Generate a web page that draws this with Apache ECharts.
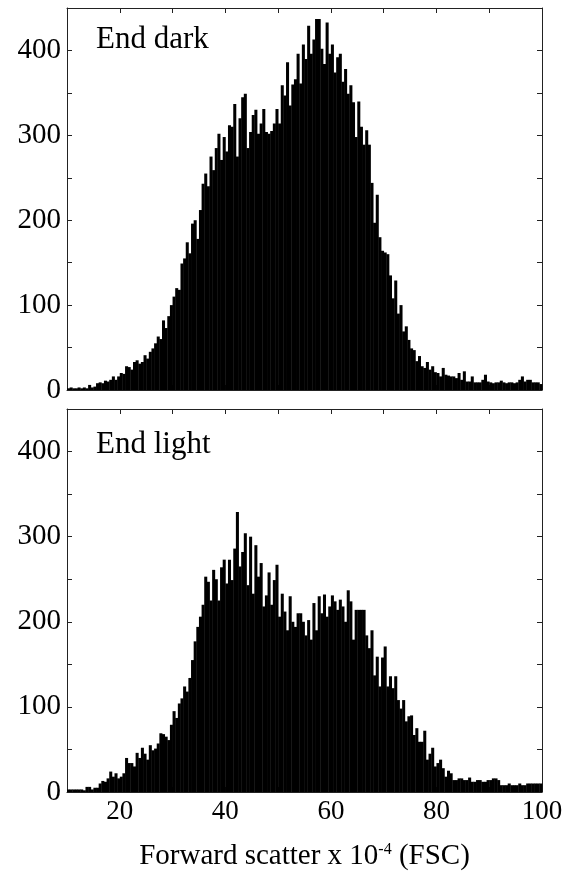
<!DOCTYPE html>
<html>
<head>
<meta charset="utf-8">
<script src="https://cdn.jsdelivr.net/npm/echarts@6/dist/echarts.min.js"></script>
<style>
  html, body { margin: 0; padding: 0; background: #fff; }
  #chart { width: 567px; height: 882px; }
</style>
</head>
<body>
<div id="chart"></div>
<script>
// Histogram bins of forward scatter (x 10^-4), 0.5 units wide, starting at 10
const BIN_START = 10;
const BIN_WIDTH = 0.5;

// Cell counts per bin, end of dark period
const endDark = [
  2, 3, 2, 2, 3, 2, 3, 2, 6, 3,
  4, 8, 9, 8, 11, 10, 12, 16, 12, 16,
  20, 19, 28, 27, 24, 33, 35, 31, 33, 41,
  37, 45, 49, 55, 63, 60, 82, 73, 87, 100,
  110, 120, 118, 149, 155, 174, 161, 196, 200, 178,
  212, 243, 255, 240, 275, 259, 285, 302, 271, 298,
  281, 312, 310, 337, 275, 320, 345, 349, 285, 304,
  324, 330, 302, 314, 331, 304, 302, 305, 314, 331,
  314, 359, 347, 386, 335, 360, 366, 396, 361, 407,
  390, 429, 396, 413, 437, 437, 402, 384, 433, 396,
  407, 374, 392, 396, 363, 378, 349, 359, 339, 298,
  340, 310, 289, 306, 289, 244, 197, 230, 180, 164,
  162, 160, 135, 108, 129, 90, 100, 69, 75, 59,
  49, 47, 34, 40, 28, 26, 33, 24, 28, 21,
  20, 16, 26, 18, 17, 16, 16, 14, 20, 12,
  22, 10, 10, 16, 9, 9, 9, 12, 18, 10,
  9, 8, 9, 9, 11, 9, 8, 9, 9, 8,
  9, 12, 16, 10, 12, 12, 9, 9, 9, 7
];

// Cell counts per bin, end of light period
const endLight = [
  3, 3, 3, 3, 3, 3, 2, 6, 6, 3,
  5, 5, 10, 13, 12, 16, 24, 18, 22, 16,
  18, 22, 40, 34, 34, 30, 46, 40, 52, 45,
  38, 55, 49, 51, 57, 69, 68, 65, 61, 79,
  95, 87, 104, 110, 124, 118, 134, 155, 177, 194,
  206, 220, 253, 247, 225, 261, 250, 225, 264, 273,
  245, 273, 249, 286, 329, 265, 282, 304, 243, 300,
  233, 290, 253, 269, 218, 231, 258, 220, 249, 267,
  206, 233, 212, 190, 230, 200, 194, 210, 210, 200,
  184, 202, 179, 222, 190, 230, 210, 232, 206, 218,
  231, 224, 214, 226, 218, 200, 237, 224, 179, 214,
  214, 214, 214, 184, 169, 190, 137, 159, 124, 158,
  171, 124, 136, 122, 136, 108, 98, 108, 83, 89,
  90, 67, 75, 59, 59, 72, 38, 45, 52, 30,
  34, 38, 28, 18, 25, 22, 14, 14, 16, 16,
  14, 14, 17, 12, 12, 14, 14, 12, 12, 14,
  14, 16, 16, 14, 8, 8, 8, 10, 8, 8,
  8, 10, 8, 8, 10, 10, 10, 10, 10, 10
];

const panelTitles = ['End dark', 'End light'];
const xAxisTitle = ['Forward scatter x 10', '-4', ' (FSC)'];

const X_MIN = 10, X_MAX = 100, X_TICK = 10, X_LABEL_STEP = 20;
const Y_MIN = 0, Y_MAX = 450, Y_TICK = 50, Y_LABEL_STEP = 100;

const FONT = '"Liberation Serif", "Times New Roman", serif';
const FRAME = '#222';

function toBins(counts) {
  return counts.map((c, i) => [BIN_START + i * BIN_WIDTH, c]);
}

// Each bin is a filled rectangle from its left edge to the next edge
function renderBin(params, api) {
  const x0 = api.value(0);
  const y = api.value(1);
  const topLeft = api.coord([x0, y]);
  const bottomRight = api.coord([x0 + BIN_WIDTH, Y_MIN]);
  return {
    type: 'rect',
    shape: {
      x: topLeft[0],
      y: topLeft[1],
      width: bottomRight[0] - topLeft[0] + 0.4,
      height: bottomRight[1] - topLeft[1]
    },
    style: { fill: '#000' }
  };
}

const grids = [
  { left: 67, right: 25, top: 8, height: 382 },
  { left: 67, right: 25, top: 409, height: 383 }
];

const xAxes = [];
const yAxes = [];
grids.forEach((g, gi) => {
  const showLabels = gi === grids.length - 1;
  // bottom x axis
  xAxes.push({
    type: 'value', gridIndex: gi, position: 'bottom',
    min: X_MIN, max: X_MAX, interval: X_TICK,
    axisLine: { show: true, onZero: false, lineStyle: { color: FRAME, width: 1 } },
    axisTick: { show: true, inside: true, length: 5, lineStyle: { color: FRAME } },
    splitLine: { show: false },
    axisLabel: {
      show: showLabels, margin: 6, color: '#000', fontFamily: FONT, fontSize: 27,
      formatter: v => (v % X_LABEL_STEP === 0 ? String(v) : '')
    },
    name: showLabels ? '{t|' + xAxisTitle[0] + '}{s|' + xAxisTitle[1] + '}{t|' + xAxisTitle[2] + '}' : '',
    nameLocation: 'middle',
    nameGap: 50,
    nameTextStyle: {
      rich: {
        t: { fontFamily: FONT, fontSize: 29, color: '#000', verticalAlign: 'bottom' },
        s: { fontFamily: FONT, fontSize: 16, color: '#000', verticalAlign: 'top', padding: [0, 0, 11, 0] }
      }
    }
  });
  // top x axis (frame with inner ticks)
  xAxes.push({
    type: 'value', gridIndex: gi, position: 'top',
    min: X_MIN, max: X_MAX, interval: X_TICK,
    axisLine: { show: true, onZero: false, lineStyle: { color: FRAME, width: 1 } },
    axisTick: { show: true, inside: true, length: 5, lineStyle: { color: FRAME } },
    splitLine: { show: false },
    axisLabel: { show: false }
  });
  // left y axis
  yAxes.push({
    type: 'value', gridIndex: gi, position: 'left',
    min: Y_MIN, max: Y_MAX, interval: Y_TICK,
    axisLine: { show: true, onZero: false, lineStyle: { color: FRAME, width: 1 } },
    axisTick: { show: true, inside: true, length: 5, lineStyle: { color: FRAME } },
    splitLine: { show: false },
    axisLabel: {
      margin: 6, color: '#000', fontFamily: FONT, fontSize: 29,
      showMaxLabel: false,
      formatter: v => (v % Y_LABEL_STEP === 0 ? String(v) : '')
    }
  });
  // right y axis (frame with inner ticks)
  yAxes.push({
    type: 'value', gridIndex: gi, position: 'right',
    min: Y_MIN, max: Y_MAX, interval: Y_TICK,
    axisLine: { show: true, onZero: false, lineStyle: { color: FRAME, width: 1 } },
    axisTick: { show: true, inside: true, length: 5, lineStyle: { color: FRAME } },
    splitLine: { show: false },
    axisLabel: { show: false }
  });
});

const seriesData = [endDark, endLight];
const series = seriesData.map((counts, gi) => ({
  type: 'custom',
  name: panelTitles[gi],
  xAxisIndex: gi * 2,
  yAxisIndex: gi * 2,
  renderItem: renderBin,
  encode: { x: 0, y: 1 },
  data: toBins(counts),
  animation: false,
  silent: true
}));

const titles = panelTitles.map((t, gi) => ({
  text: t,
  left: 91,
  top: gi === 0 ? 19 : 424,
  textStyle: { fontFamily: FONT, fontSize: 31, fontWeight: 'normal', color: '#000' }
}));

const chart = echarts.init(document.getElementById('chart'), null, { renderer: 'canvas' });
chart.setOption({
  animation: false,
  backgroundColor: '#fff',
  title: titles,
  grid: grids,
  xAxis: xAxes,
  yAxis: yAxes,
  series: series
});
</script>
</body>
</html>
